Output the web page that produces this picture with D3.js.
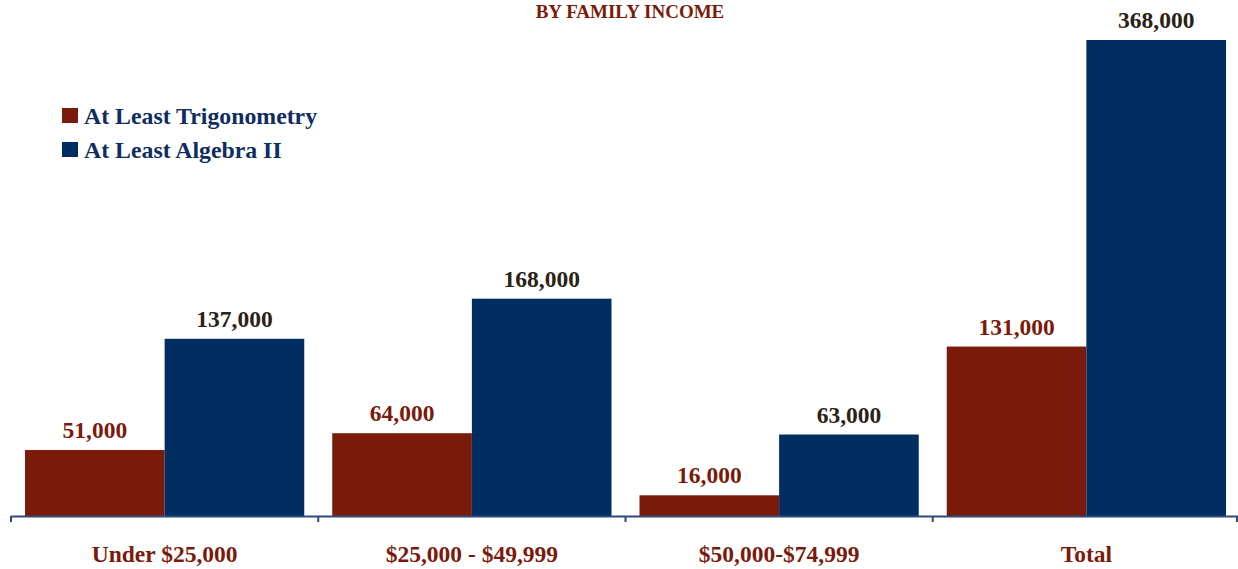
<!DOCTYPE html>
<html><head><meta charset="utf-8">
<script src="https://cdn.jsdelivr.net/npm/d3@7"></script>
<style>body{margin:0;background:#fff}svg{display:block}</style>
</head><body>
<svg id="c" width="1238" height="569"></svg>
<script>
const categories = ["Under $25,000", "$25,000 - $49,999", "$50,000-$74,999", "Total"];
const seriesNames = ["At Least Trigonometry", "At Least Algebra II"];
const trig = [51000, 64000, 16000, 131000];
const alg2 = [137000, 168000, 63000, 368000];
const titleText = "BY FAMILY INCOME";

(function () {
const RED = "#7a1a0b", NAVY = "#002d62";
const barColors = [RED, NAVY];
const labelColors = [RED, "#2a2214"];
const series = [trig, alg2];
const FONT = "'Liberation Serif','Times New Roman',serif";

const svg = d3.select("#c");
const mLeft = 11, mRight = 1240, mTop = 40, mBottom = 516;

const x0 = d3.scaleBand().domain(categories).range([mLeft, mRight]).padding(0);
const x1 = d3.scaleBand().domain(d3.range(series.length)).range([14, x0.bandwidth() - 14]).padding(0);
const y = d3.scaleLinear().domain([0, 368000]).range([mBottom, mTop]);

const g = svg.append("g");
categories.forEach((c, i) => {
  series.forEach((s, k) => {
    g.append("rect")
      .attr("x", x0(c) + x1(k))
      .attr("y", y(s[i]))
      .attr("width", x1.bandwidth())
      .attr("height", y(0) - y(s[i]))
      .attr("fill", barColors[k]);
    g.append("text")
      .attr("x", x0(c) + x1(k) + x1.bandwidth() / 2)
      .attr("y", y(s[i]) - 12)
      .attr("text-anchor", "middle")
      .attr("font-family", FONT)
      .attr("font-weight", "bold")
      .attr("font-size", 23.5)
      .attr("fill", labelColors[k])
      .text(d3.format(",")(s[i]));
  });
});

const axisColor = "#2f4a7a";
svg.append("line").attr("x1", mLeft).attr("x2", mRight).attr("y1", mBottom + 0.5).attr("y2", mBottom + 0.5)
  .attr("stroke", axisColor).attr("stroke-width", 2);
const tickXs = categories.map(c => x0(c)).concat([mRight]);
tickXs.forEach(tx => {
  svg.append("line").attr("x1", Math.min(tx, 1237)).attr("x2", Math.min(tx, 1237))
    .attr("y1", mBottom).attr("y2", mBottom + 6).attr("stroke", axisColor).attr("stroke-width", 2);
});
categories.forEach(c => {
  svg.append("text")
    .attr("x", x0(c) + x0.bandwidth() / 2)
    .attr("y", 562)
    .attr("text-anchor", "middle")
    .attr("font-family", FONT)
    .attr("font-weight", "bold")
    .attr("font-size", 23.5)
    .attr("fill", RED)
    .text(c);
});

svg.append("text").attr("x", 630).attr("y", 18).attr("text-anchor", "middle")
  .attr("font-family", FONT)
  .attr("font-weight", "bold").attr("font-size", 19).attr("fill", RED).text(titleText);

seriesNames.forEach((n, k) => {
  const ly = 108 + k * 34;
  svg.append("rect").attr("x", 62).attr("y", ly).attr("width", 16).attr("height", 15).attr("fill", barColors[k]);
  svg.append("text").attr("x", 84).attr("y", ly + 16)
    .attr("font-family", FONT)
    .attr("font-weight", "bold").attr("font-size", 23.8).attr("fill", "#0f2d5f").text(n);
});
})();
</script>
</body></html>
